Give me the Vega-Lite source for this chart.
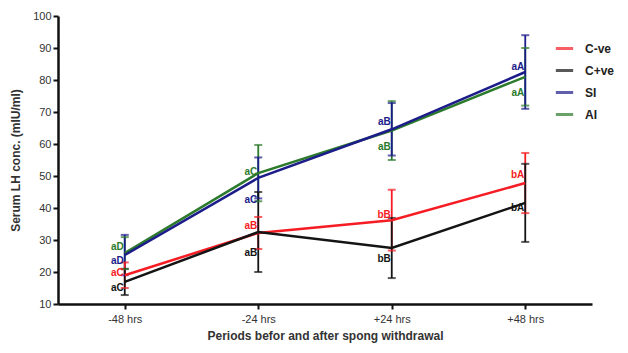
{
  "$schema": "https://vega.github.io/schema/vega-lite/v6.json",
  "width": 534,
  "height": 288,
  "autosize": "none",
  "padding": {"left": 58, "top": 16, "right": 36, "bottom": 49},
  "background": "white",
  "config": {
    "view": {"stroke": null},
    "font": "Liberation Sans",
    "axis": {"grid": false, "domainColor": "#111", "domainWidth": 2.5, "tickColor": "#111", "tickWidth": 2, "tickSize": 5, "labelColor": "#333", "labelFontSize": 11, "labelOverlap": false, "titleFontSize": 12, "titleFontWeight": "bold", "titleColor": "#333"}
  },
  "data": {"values": [
    {"period": "-48 hrs", "group": "AI", "mean": 25.9, "err": 5.0, "lab": "aD", "laby": 27.8},
    {"period": "-48 hrs", "group": "SI", "mean": 25.3, "err": 6.3, "lab": "aD", "laby": 23.4},
    {"period": "-48 hrs", "group": "C-ve", "mean": 19.0, "err": 4.0, "lab": "aC", "laby": 19.7},
    {"period": "-48 hrs", "group": "C+ve", "mean": 16.9, "err": 4.1, "lab": "aC", "laby": 15.0},
    {"period": "-24 hrs", "group": "AI", "mean": 50.9, "err": 8.8, "lab": "aC", "laby": 51.3},
    {"period": "-24 hrs", "group": "SI", "mean": 49.4, "err": 6.4, "lab": "aC", "laby": 42.5},
    {"period": "-24 hrs", "group": "C-ve", "mean": 32.2, "err": 5.0, "lab": "aB", "laby": 34.4},
    {"period": "-24 hrs", "group": "C+ve", "mean": 32.5, "err": 12.5, "lab": "aB", "laby": 26.0},
    {"period": "+24 hrs", "group": "AI", "mean": 64.2, "err": 9.2, "lab": "aB", "laby": 59.0},
    {"period": "+24 hrs", "group": "SI", "mean": 64.6, "err": 8.2, "lab": "aB", "laby": 66.9},
    {"period": "+24 hrs", "group": "C-ve", "mean": 36.2, "err": 9.5, "lab": "bB", "laby": 37.8},
    {"period": "+24 hrs", "group": "C+ve", "mean": 27.5, "err": 9.4, "lab": "bB", "laby": 24.0},
    {"period": "+48 hrs", "group": "AI", "mean": 81.0, "err": 9.0, "lab": "aA", "laby": 75.9},
    {"period": "+48 hrs", "group": "SI", "mean": 82.5, "err": 11.5, "lab": "aA", "laby": 84.0},
    {"period": "+48 hrs", "group": "C-ve", "mean": 47.8, "err": 9.4, "lab": "bA", "laby": 50.3},
    {"period": "+48 hrs", "group": "C+ve", "mean": 41.6, "err": 12.2, "lab": "bA", "laby": 40.0}
  ]},
  "transform": [
    {"calculate": "datum.mean + datum.err", "as": "hi"},
    {"calculate": "datum.mean - datum.err", "as": "lo"}
  ],
  "encoding": {
    "x": {"field": "period", "type": "ordinal", "sort": ["-48 hrs", "-24 hrs", "+24 hrs", "+48 hrs"],
      "scale": {"type": "point", "padding": 0.5},
      "axis": {"title": "Periods befor and after spong withdrawal", "labelAngle": 0, "labelPadding": 4, "titlePadding": 6}},
    "color": {"field": "group", "type": "nominal",
      "scale": {"domain": ["C-ve", "C+ve", "SI", "AI"], "range": ["#f51c24", "#141414", "#1c1c8a", "#2c7a2c"]},
      "legend": {"title": null, "orient": "none", "legendX": 496, "legendY": 22, "symbolType": "stroke", "symbolStrokeWidth": 3, "symbolSize": 300, "labelFontSize": 12, "labelFontWeight": "bold", "labelColor": "#222", "rowPadding": 5, "labelOffset": 10}}
  },
  "layer": [
    {"mark": {"type": "rule", "strokeWidth": 1.8},
     "encoding": {"y": {"field": "lo", "type": "quantitative", "scale": {"domain": [10, 100], "nice": false},
         "axis": {"title": "Serum LH conc. (mIU/ml)", "values": [10, 20, 30, 40, 50, 60, 70, 80, 90, 100], "tickCount": 10, "labelOverlap": false, "titlePadding": 10}},
       "y2": {"field": "hi"}}},
    {"mark": {"type": "tick", "size": 8, "thickness": 2},
     "encoding": {"y": {"field": "hi", "type": "quantitative",
         "axis": {"title": "Serum LH conc. (mIU/ml)", "values": [10, 20, 30, 40, 50, 60, 70, 80, 90, 100], "tickCount": 10, "labelOverlap": false, "titlePadding": 10}}}},
    {"mark": {"type": "tick", "size": 8, "thickness": 2},
     "encoding": {"y": {"field": "lo", "type": "quantitative",
         "axis": {"title": "Serum LH conc. (mIU/ml)", "values": [10, 20, 30, 40, 50, 60, 70, 80, 90, 100], "tickCount": 10, "labelOverlap": false, "titlePadding": 10}}}},
    {"mark": {"type": "line", "strokeWidth": 2.5},
     "encoding": {"y": {"field": "mean", "type": "quantitative",
         "axis": {"title": "Serum LH conc. (mIU/ml)", "values": [10, 20, 30, 40, 50, 60, 70, 80, 90, 100], "tickCount": 10, "labelOverlap": false, "titlePadding": 10}}, "detail": {"field": "group"}}},
    {"mark": {"type": "text", "align": "right", "baseline": "middle", "dx": -1, "fontSize": 10, "fontWeight": "bold"},
     "encoding": {"y": {"field": "laby", "type": "quantitative",
         "axis": {"title": "Serum LH conc. (mIU/ml)", "values": [10, 20, 30, 40, 50, 60, 70, 80, 90, 100], "tickCount": 10, "labelOverlap": false, "titlePadding": 10}}, "text": {"field": "lab"}}}
  ]
}
